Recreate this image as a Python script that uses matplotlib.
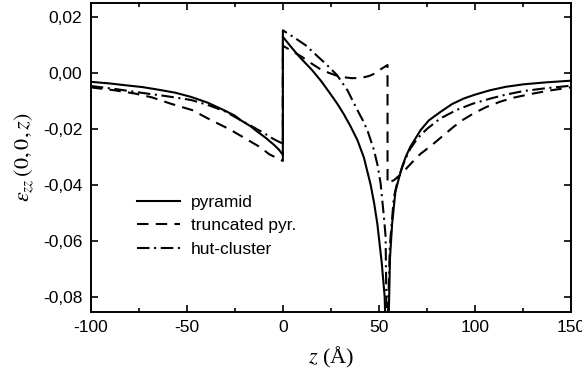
import matplotlib
matplotlib.use("Agg")
import matplotlib.pyplot as plt
from matplotlib.ticker import MultipleLocator, FuncFormatter

plt.rcParams['font.family'] = ['Liberation Sans', 'DejaVu Sans']
plt.rcParams['mathtext.fontset'] = 'stix'

# pyramid (solid)
pyr_z = [-100, -90, -82.4, -73, -65, -56, -47.8, -39, -30.5, -25, -21.8, -17, -13.1, -9, -4.5, -2, 0,
         0.01, 4, 8.3, 12, 15.2, 20, 24, 28, 31.5, 35, 38.8, 42.2, 45.7, 47.5, 49.2, 51.5, 53.0, 54.4,
         55.8, 56.9, 58.6, 60.3, 62.1, 64, 66.4, 71.7, 76, 82, 88, 94.1, 100, 108, 116, 125.3, 137, 150]
pyr_v = [-0.0032, -0.0038, -0.0044, -0.0051, -0.0060, -0.0071, -0.0086, -0.0107, -0.0134, -0.0153,
         -0.0170, -0.0190, -0.0211, -0.0232, -0.0258, -0.0275, -0.0293,
         0.0129, 0.0095, 0.0060, 0.0033, 0.0010, -0.0030, -0.0068, -0.0107, -0.0145, -0.0188, -0.0240,
         -0.0303, -0.0400, -0.0465, -0.0540, -0.0680, -0.0800, -0.1100,
         -0.0660, -0.0540, -0.0425, -0.0380, -0.0336, -0.0300, -0.0264, -0.0205, -0.0170, -0.0140,
         -0.0112, -0.0092, -0.0078, -0.0062, -0.0050, -0.0041, -0.0034, -0.0028]

# truncated pyramid (dashed)
tru_z = [-100, -88, -77, -68, -58.5, -47.3, -37.4, -27.7, -17.5, -12, -7.1, -3, 0,
         0.01, 5, 10, 15, 20, 24, 28, 32, 36, 41, 45, 48, 51, 54.5,
         54.51, 58, 62, 67.3, 71.6, 77.3, 82.5, 88.9, 94, 99.3, 106, 113.2, 120, 128.8, 139, 150]
tru_v = [-0.0052, -0.0062, -0.0074, -0.0088, -0.0110, -0.0133, -0.0169, -0.0202, -0.0243, -0.0265,
         -0.0291, -0.0305, -0.0315,
         0.0097, 0.0077, 0.0057, 0.0033, 0.0011, 0.0000, -0.0010, -0.0016, -0.0019, -0.0018, -0.0011,
         -0.0002, 0.0013, 0.0028,
         -0.0395, -0.0383, -0.0359, -0.0320, -0.0290, -0.0260, -0.0230, -0.0193, -0.0167, -0.0145,
         -0.0122, -0.0103, -0.0089, -0.0076, -0.0063, -0.0052]

# hut-cluster (dash-dot)
hut_z = [-100, -87, -74, -61, -47.8, -39, -30, -21.8, -14.9, -9.7, -5, -2.8, 0,
         0.01, 6, 11.8, 17, 23, 28.2, 33.6, 38.8, 41.5, 44, 47.4, 49.3, 50.9, 52.6, 53.5, 54.2,
         55.7, 57.8, 60, 62, 64, 66.5, 70, 75.1, 82, 90.7, 99, 108, 116, 125.3, 137, 150]
hut_v = [-0.0047, -0.0058, -0.0071, -0.0083, -0.0097, -0.0115, -0.0138, -0.0170, -0.0196, -0.0216,
         -0.0236, -0.0244, -0.0253,
         0.0152, 0.0126, 0.0099, 0.0066, 0.0028, -0.0008, -0.0062, -0.0133, -0.0168, -0.0205, -0.0275,
         -0.0330, -0.0395, -0.0514, -0.0586, -0.1000,
         -0.0620, -0.0445, -0.0380, -0.0340, -0.0305, -0.0270, -0.0235, -0.0200, -0.0163, -0.0132,
         -0.0110, -0.0092, -0.0078, -0.0065, -0.0055, -0.0046]

labels = ['pyramid', 'truncated pyr.', 'hut-cluster']

fig = plt.figure(figsize=(5.82, 3.81), dpi=100)
ax = fig.add_axes([0.156, 0.182, 0.825, 0.811])

lw = 1.5
ax.plot(pyr_z, pyr_v, color='black', lw=lw, ls='-', label=labels[0])
ax.plot(tru_z, tru_v, color='black', lw=lw, ls=(0, (5.5, 3.5)), label=labels[1])
ax.plot(hut_z, hut_v, color='black', lw=lw, ls=(0, (6, 2.2, 1.0, 2.2)), label=labels[2])

ax.set_xlim(-100, 150)
ax.set_ylim(-0.0854, 0.0251)
ax.xaxis.set_major_locator(MultipleLocator(50))
ax.xaxis.set_minor_locator(MultipleLocator(25))
ax.yaxis.set_major_locator(MultipleLocator(0.02))
ax.yaxis.set_major_formatter(FuncFormatter(lambda v, p: f"{v:.2f}".replace('.', ',').replace('\u2212', '-')))
ax.xaxis.set_major_formatter(FuncFormatter(lambda v, p: f"{int(round(v))}"))
ax.tick_params(which='both', direction='in', top=True, right=True, labelsize=12.5, width=1.2)
ax.tick_params(which='major', length=5, pad=6)
ax.tick_params(which='minor', length=3)
for s in ax.spines.values():
    s.set_linewidth(1.4)

ax.set_xlabel(r'$z$ (Å)', fontsize=16, family='Liberation Serif', labelpad=7)
ax.set_ylabel(r'$\varepsilon_{zz}\,(0,0,z)$', fontsize=16, labelpad=5)

ax.legend(loc='upper left', bbox_to_anchor=(0.096, 0.378), frameon=False,
          fontsize=12.5, handlelength=2.5, handletextpad=0.6, labelspacing=0.48,
          borderpad=0, borderaxespad=0)

fig.savefig('out.png', dpi=100)
